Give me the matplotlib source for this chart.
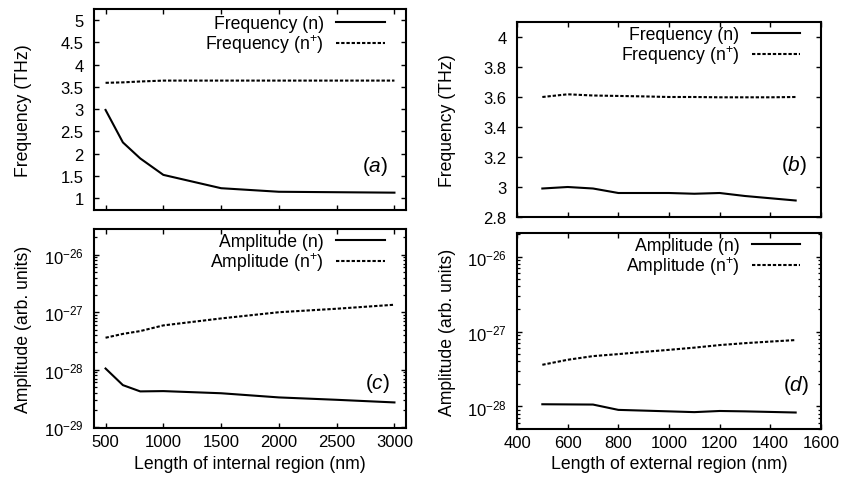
import matplotlib
matplotlib.use("Agg")
import matplotlib.pyplot as plt
from matplotlib.ticker import FuncFormatter, LogLocator, NullFormatter, LogFormatterSciNotation

plt.rcParams['font.family'] = ['Liberation Sans', 'DejaVu Sans']
plt.rcParams['mathtext.fontset'] = 'custom'
plt.rcParams['mathtext.rm'] = 'Liberation Sans'
plt.rcParams['mathtext.it'] = 'Liberation Sans:italic'
plt.rcParams['mathtext.bf'] = 'Liberation Sans:bold'

# ---- data: internal region ----
x_int = [500, 650, 800, 1000, 1500, 2000, 2500, 3000]
freq_n_int = [2.98, 2.25, 1.89, 1.52, 1.22, 1.14, 1.13, 1.12]
freq_np_int = [3.59, 3.60, 3.62, 3.64, 3.64, 3.64, 3.64, 3.64]
amp_n_int = [1.05e-28, 5.4e-29, 4.2e-29, 4.25e-29, 3.9e-29, 3.3e-29, 3.0e-29, 2.7e-29]
amp_np_int = [3.6e-28, 4.2e-28, 4.7e-28, 5.9e-28, 7.8e-28, 1.0e-27, 1.15e-27, 1.35e-27]

# ---- data: external region ----
x_ext = [500, 600, 700, 800, 900, 1000, 1100, 1200, 1300, 1400, 1500]
freq_n_ext = [2.99, 3.0, 2.99, 2.96, 2.96, 2.96, 2.955, 2.96, 2.94, 2.925, 2.91]
freq_np_ext = [3.60, 3.618, 3.61, 3.607, 3.604, 3.60, 3.60, 3.598, 3.598, 3.598, 3.60]
amp_n_ext = [1.07e-28, 1.065e-28, 1.06e-28, 9.0e-29, 8.8e-29, 8.6e-29, 8.4e-29, 8.7e-29, 8.6e-29, 8.45e-29, 8.3e-29]
amp_np_ext = [3.6e-28, 4.2e-28, 4.7e-28, 5.0e-28, 5.35e-28, 5.7e-28, 6.1e-28, 6.6e-28, 7.0e-28, 7.35e-28, 7.7e-28]

x_ticks_int = [500, 1000, 1500, 2000, 2500, 3000]
x_ticks_ext = [400, 600, 800, 1000, 1200, 1400, 1600]
y_ticks_a = [1, 1.5, 2, 2.5, 3, 3.5, 4, 4.5, 5]
y_ticks_b = [2.8, 3.0, 3.2, 3.4, 3.6, 3.8, 4.0]
y_ticks_c = [1e-29, 1e-28, 1e-27, 1e-26]
y_ticks_d = [1e-28, 1e-27, 1e-26]

lbl_fn = 'Frequency (n)'
lbl_fnp = 'Frequency (n$^{+}$)'
lbl_an = 'Amplitude (n)'
lbl_anp = 'Amplitude (n$^{+}$)'

W, H = 842, 485
fig = plt.figure(figsize=(W / 100, H / 100), dpi=100)

def ax_px(l, r, t, b):
    return fig.add_axes([l / W, (H - b) / H, (r - l) / W, (b - t) / H])

FS = 12.7
TFS = 12
LW = 1.5
DASH = (0, (1.6, 0.9))

def style(ax):
    for s in ax.spines.values():
        s.set_linewidth(1.5)
    ax.tick_params(which='both', direction='in', top=True, right=True, labelsize=TFS)
    ax.tick_params(which='major', length=3.5, width=1.0)
    ax.tick_params(which='minor', length=2.0, width=0.9)
    ax.tick_params(axis='y', pad=7.5)
    ax.tick_params(axis='x', pad=4)

def legend(ax, top_px, h_px):
    ax.legend(loc='upper right', frameon=False, markerfirst=False, fontsize=FS,
              handlelength=2.75, handletextpad=0.7, labelspacing=0.0,
              borderpad=0, borderaxespad=0,
              bbox_to_anchor=(0.932, 1 - top_px / h_px))

def ylab(ax, text, x_px, l_px, w_px):
    ax.set_ylabel(text, fontsize=FS)
    ax.yaxis.set_label_coords((x_px + 10 - l_px) / w_px, 0.5)

def xlab(ax, text, y_px, b_px, h_px):
    ax.set_xlabel(text, fontsize=FS)
    ax.xaxis.set_label_coords(0.5, (b_px - (y_px - 10)) / h_px)

def log_y(ax, ticks, lo, hi):
    ax.set_yscale('log')
    ax.set_ylim(lo, hi)
    ax.set_yticks(ticks)
    ax.yaxis.set_major_formatter(LogFormatterSciNotation(base=10))
    minors = [m * 10.0 ** e for e in range(-31, -24) for m in range(2, 10)
              if lo <= m * 10.0 ** e <= hi]
    ax.set_yticks(minors, minor=True)
    ax.yaxis.set_minor_formatter(NullFormatter())

gfmt = FuncFormatter(lambda v, p: f'{v:g}')

# pixel boxes (left, right, top, bottom)
A = (94, 406, 10, 211)
C = (94, 406, 230, 429)
B = (517, 821, 23, 218)
D = (517, 821, 234, 430)
ax_a = ax_px(*A)
ax_c = ax_px(*C)
ax_b = ax_px(*B)
ax_d = ax_px(*D)

def panel_tag(ax, letter, xr, yc):
    ax.text(xr, yc, r'($\mathit{%s}$)' % letter, transform=ax.transAxes,
            ha='right', va='center', fontsize=15)

# (a)
ax_a.plot(x_int, freq_n_int, color='black', lw=LW, ls='-', label=lbl_fn)
ax_a.plot(x_int, freq_np_int, color='black', lw=LW, ls=DASH, label=lbl_fnp)
ax_a.set_xlim(400, 3100)
ax_a.set_ylim(0.73, 5.25)
ax_a.set_xticks(x_ticks_int)
ax_a.set_yticks(y_ticks_a)
ax_a.yaxis.set_major_formatter(gfmt)
style(ax_a)
ax_a.tick_params(axis='x', labelbottom=False)
ylab(ax_a, 'Frequency (THz)', 22, A[0], A[1] - A[0])
legend(ax_a, 6, A[3] - A[2])
panel_tag(ax_a, 'a', 0.943, 0.22)

# (c)
ax_c.plot(x_int, amp_n_int, color='black', lw=LW, ls='-', label=lbl_an)
ax_c.plot(x_int, amp_np_int, color='black', lw=LW, ls=DASH, label=lbl_anp)
log_y(ax_c, y_ticks_c, 0.97e-29, 2.8e-26)
ax_c.set_xlim(400, 3100)
ax_c.set_xticks(x_ticks_int)
style(ax_c)
ylab(ax_c, 'Amplitude (arb. units)', 22, C[0], C[1] - C[0])
xlab(ax_c, 'Length of internal region (nm)', 466, C[3], C[3] - C[2])
legend(ax_c, 4, C[3] - C[2])
panel_tag(ax_c, 'c', 0.949, 0.23)

# (b)
ax_b.plot(x_ext, freq_n_ext, color='black', lw=LW, ls='-', label=lbl_fn)
ax_b.plot(x_ext, freq_np_ext, color='black', lw=LW, ls=DASH, label=lbl_fnp)
ax_b.set_xlim(400, 1600)
ax_b.set_ylim(2.8, 4.1)
ax_b.set_xticks(x_ticks_ext)
ax_b.set_yticks(y_ticks_b)
ax_b.yaxis.set_major_formatter(gfmt)
style(ax_b)
ax_b.tick_params(axis='x', labelbottom=False)
ylab(ax_b, 'Frequency (THz)', 446, B[0], B[1] - B[0])
legend(ax_b, 4, B[3] - B[2])
panel_tag(ax_b, 'b', 0.956, 0.268)

# (d)
ax_d.plot(x_ext, amp_n_ext, color='black', lw=LW, ls='-', label=lbl_an)
ax_d.plot(x_ext, amp_np_ext, color='black', lw=LW, ls=DASH, label=lbl_anp)
log_y(ax_d, y_ticks_d, 5e-29, 2.07e-26)
ax_d.set_xlim(400, 1600)
ax_d.set_xticks(x_ticks_ext)
style(ax_d)
ylab(ax_d, 'Amplitude (arb. units)', 446, D[0], D[1] - D[0])
xlab(ax_d, 'Length of external region (nm)', 466, D[3], D[3] - D[2])
legend(ax_d, 4, D[3] - D[2])
panel_tag(ax_d, 'd', 0.96, 0.226)

fig.savefig('out.png', dpi=100)
